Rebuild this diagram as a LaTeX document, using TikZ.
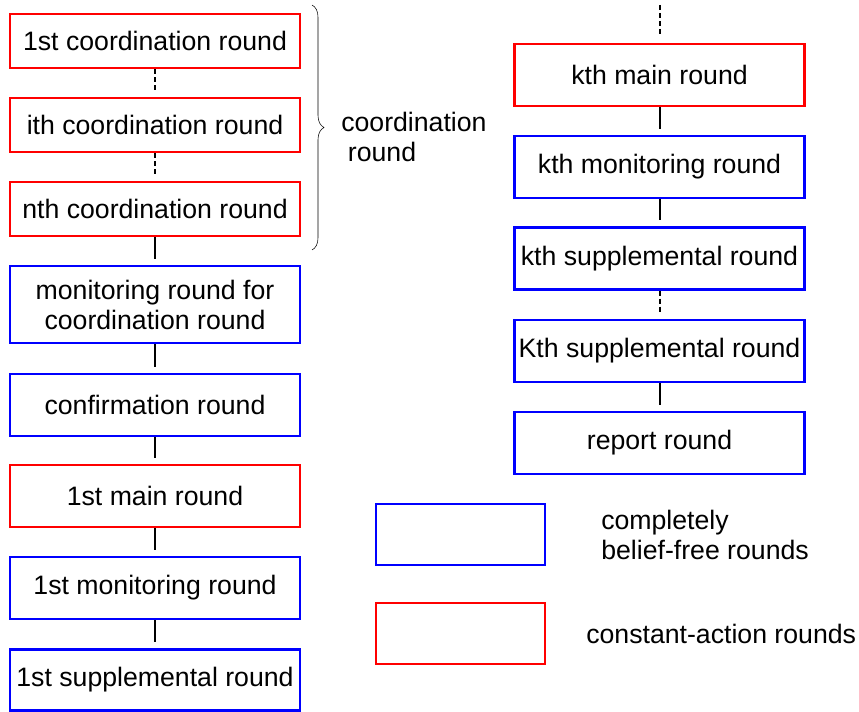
\documentclass[tikz,border=0pt]{standalone}
\usepackage{fontspec}
\setmainfont{Liberation Sans}
\usetikzlibrary{decorations.pathreplacing}

\begin{document}
\begin{tikzpicture}[
  x=0.75pt, y=-0.75pt,
  round/.style={rectangle, line width=1.8pt, minimum width=217.5pt, minimum height=46.5pt, inner sep=0pt, align=center, font=\fontsize{20}{22.5}\selectfont},
  redround/.style={round, draw=red},
  blueround/.style={round, draw=blue},
  link/.style={line width=1.5pt, shorten >=4.5pt},
  dotlink/.style={link, dash pattern=on 3.75pt off 2.25pt},
  note/.style={inner sep=0pt, align=left, anchor=west, font=\fontsize{20}{22.5}\selectfont},
  brace/.style={thin, decorate, decoration={brace, amplitude=9pt}}
]
\useasboundingbox (0,0) rectangle (859,712);

\node[redround, minimum height=40.5pt] (c1) at (155,41) {1st coordination round};
\node[redround, minimum height=40.5pt] (ci) at (155,125) {ith coordination round};
\node[redround, minimum height=40.5pt] (cn) at (155,209) {nth coordination round};
\node[blueround, minimum height=57.75pt] (monc) at (155,304.5) {monitoring round for\\coordination round};
\node[blueround] (conf) at (155,405) {confirmation round};
\node[redround] (main1) at (155,496) {1st main round};
\node[blueround] (mon1) at (155,588) {1st monitoring round};
\node[blueround, minimum height=45.75pt] (sup1) at (155,680) {1st supplemental round};

\coordinate (kdots) at (659.5,5);
\node[redround] (kmain) at (659.5,75) {kth main round};
\node[blueround] (kmon) at (659.5,167) {kth monitoring round};
\node[blueround] (ksup) at (659.5,258.5) {kth supplemental round};
\node[blueround] (Ksup) at (659.5,351) {Kth supplemental round};
\node[blueround] (report) at (659.5,443) {report round};

\node[blueround, minimum width=126.75pt, minimum height=45.75pt] (legblue) at (460.5,534.5) {};
\node[redround, minimum width=126.75pt, minimum height=45.75pt] (legred) at (460.5,633.5) {};
\node[note] (legbluetext) at (601,535) {completely\\belief-free rounds};
\node[note] (legredtext) at (586,634) {constant-action rounds};

\coordinate (bracetop) at (312,5);
\coordinate (bracebot) at (312,250);
\draw[brace] (bracetop) -- (bracebot);
\node[note] (coordtext) at (341,137) {coordination\\\hspace*{5pt}round};

\draw[dotlink] (c1) -- (ci);
\draw[dotlink] (ci) -- (cn);
\draw[link] (cn) -- (monc);
\draw[link] (monc) -- (conf);
\draw[link] (conf) -- (main1);
\draw[link] (main1) -- (mon1);
\draw[link] (mon1) -- (sup1);

\draw[dotlink] (kdots) -- (kmain);
\draw[link] (kmain) -- (kmon);
\draw[link] (kmon) -- (ksup);
\draw[dotlink] (ksup) -- (Ksup);
\draw[link] (Ksup) -- (report);

\end{tikzpicture}
\end{document}
